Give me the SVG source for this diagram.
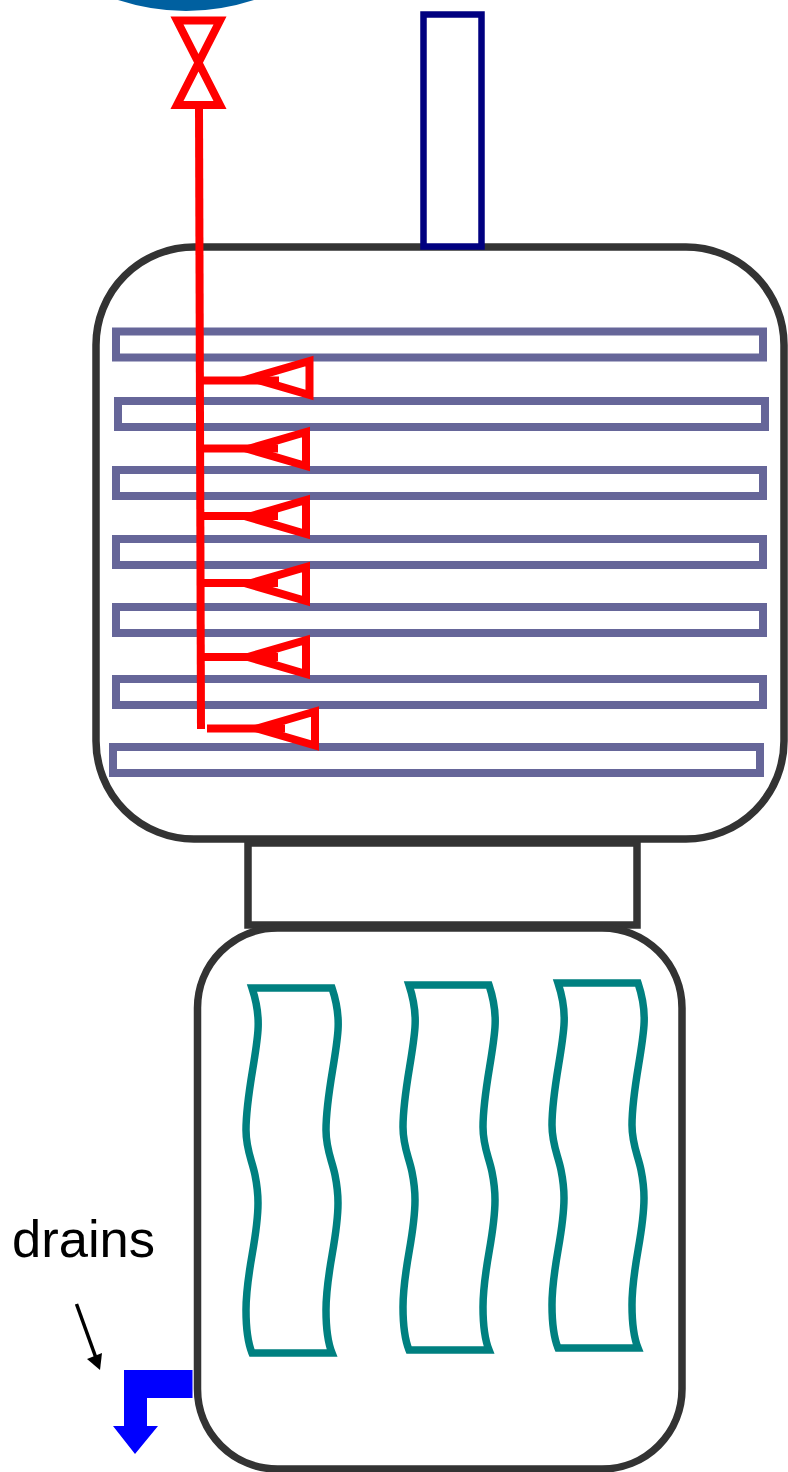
<svg xmlns="http://www.w3.org/2000/svg" width="788" height="1472" viewBox="0 0 788 1472">
<style>
.shell{fill:#fff;stroke:#333;stroke-width:7.500}
.bar{fill:#fff;stroke:#669;stroke-width:8}
.teal{fill:#fff;stroke:#008080;stroke-width:7.500}
.red{fill:none;stroke:#f00;stroke-width:8;stroke-miterlimit:30}
text{font-family:"Liberation Sans",Arial,sans-serif;font-size:52.500px;fill:#000}
</style>
<defs>
<path id="plate" d="M252,988H332C337,1003 339,1015 338,1030C336,1060 326,1095 326,1130C326,1150 332,1160 335,1175C337,1185 338,1195 338,1203C338,1240 326,1270 326,1310C326,1330 328,1343 332,1353H252C248,1343 246,1330 246,1310C246,1270 258,1240 258,1203C258,1195 257,1185 255,1175C252,1160 246,1150 246,1130C246,1095 256,1060 258,1030C259,1015 257,1003 252,988Z"/>
</defs>
<g id="vessel-top"><path d="M118,0Q186,22 254,0Z" fill="#0060a0"/></g>
<g id="main-shell"><rect class="shell" x="96" y="247" width="688" height="592" rx="98" ry="98"/></g>
<g id="stack"><rect x="423.500" y="14.500" width="58" height="232" fill="#fff" stroke="#000080" stroke-width="6.500"/></g>
<g id="neck"><rect class="shell" x="248" y="843" width="389" height="82"/></g>
<g id="lower-shell"><rect class="shell" x="197.500" y="928" width="484.500" height="541" rx="80" ry="80"/></g>
<g id="bars">
<rect class="bar" x="116" y="331.500" width="647" height="26"/>
<rect class="bar" x="118" y="401" width="647" height="26"/>
<rect class="bar" x="116" y="470" width="647" height="26"/>
<rect class="bar" x="116" y="539" width="647" height="26"/>
<rect class="bar" x="116" y="607" width="647" height="26"/>
<rect class="bar" x="116" y="679" width="647" height="26"/>
<rect class="bar" x="113" y="747" width="647" height="26"/>
</g>
<g id="plates">
<use href="#plate" class="teal"/>
<use href="#plate" class="teal" transform="translate(157,-3)"/>
<use href="#plate" class="teal" transform="translate(306,-5)"/>
</g>
<g id="connectors">
<path class="red" d="M199,108L201,729"/>
<path class="red" d="M201,380.500H279M201,448.500H278M201,516H278M201,583H278M201,657H278M207,728.500H285"/>
<path class="red" d="M309.500,361V395L251.500,378Z"/>
<path class="red" d="M306,432V466L248,449Z"/>
<path class="red" d="M306,500V534L248,517Z"/>
<path class="red" d="M306,567V601L248,584Z"/>
<path class="red" d="M306,640V674L248,657Z"/>
<path class="red" d="M315,711.500V745.500L257,728.500Z"/>
<path d="M76.500,1304L96,1358" fill="none" stroke="#000" stroke-width="3.500"/>
<path d="M100,1370L87,1359L102,1353Z" fill="#000"/>
</g>
<g id="valve"><path class="red" d="M177,20.500H220L177,105H220Z"/></g>
<g id="drain-pipe"><path d="M124,1370H192.500V1398H147V1426H158L135,1454L113,1426H124Z" fill="#00f"/></g>
<g id="drains-label"><text x="12" y="1257">drains</text></g>
</svg>
